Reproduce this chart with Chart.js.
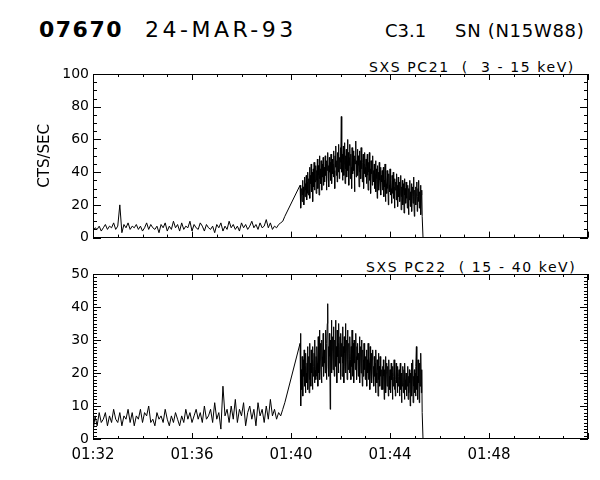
<!DOCTYPE html>
<html>
<head>
<meta charset="utf-8">
<script src="https://cdn.jsdelivr.net/npm/chart.js@4/dist/chart.umd.min.js"></script>
<style>
    body { margin: 0; background: #fff; }
    #page { position: relative; width: 600px; height: 480px; overflow: hidden; font-family: 'DejaVu Sans', sans-serif; color: #000; }
    .txt { position: absolute; white-space: pre; line-height: 1; }
    canvas { position: absolute; left: 0; }
</style>
</head>
<body>
<div id="page">
    <div class="txt" style="left:39px; top:19px; font-size:22px; font-weight:bold; letter-spacing:1.5px;">07670</div>
    <div class="txt" style="left:145px; top:19px; font-size:22px; letter-spacing:3.5px;">24-MAR-93</div>
    <div class="txt" style="left:385px; top:22px; font-size:18px;">C3.1</div>
    <div class="txt" style="left:455px; top:22px; font-size:18px; letter-spacing:0.7px;">SN (N15W88)</div>
    <div class="txt" style="left:369px; top:60px; font-size:14px; letter-spacing:1.6px;">SXS PC21  (  3 - 15 keV)</div>
    <div class="txt" style="left:366px; top:260px; font-size:14px; letter-spacing:1.6px;">SXS PC22  ( 15 - 40 keV)</div>
    <canvas id="pc21Chart" width="600" height="250" style="top:0;"></canvas>
    <canvas id="pc22Chart" width="600" height="230" style="top:250px;"></canvas>
</div>
<script>
// time is seconds after 01:32:00 UT
const quietStart = 0;
const quietStep = 5;
const flareStart = 502;
const flareStep = 1;
const endTime = 800;
const axisMin = 0;
const axisMax = 1200;

// SXS PC21 (3 - 15 keV)
const pc21Quiet = [
    4, 6, 5, 7, 4, 6, 8, 5, 7, 6,
    9, 5, 7, 20, 3, 8, 6, 9, 5, 7,
    6, 8, 5, 7, 4, 6, 9, 5, 8, 6,
    5, 7, 3, 8, 6, 9, 4, 7, 5, 10,
    6, 8, 4, 9, 5, 7, 6, 10, 4, 8,
    6, 5, 9, 7, 4, 8, 6, 5, 7, 3,
    8, 6, 9, 4, 7, 5, 10, 6, 8, 5,
    7, 4, 9, 6, 8, 5, 7, 10, 6, 8,
    5, 9, 6, 7, 11, 6, 9, 5, 7, 6,
    8, 9, 10, 13
];
const pc21Flare = [
    32, 24, 18, 27, 30, 22, 35, 26, 31, 20, 28, 37, 25, 33, 29, 38, 23, 34, 27, 40,
    26, 36, 30, 43, 24, 38, 33, 45, 28, 40, 35, 22, 42, 31, 46, 29, 39, 34, 44, 27,
    41, 35, 48, 30, 44, 38, 26, 50, 36, 42, 33, 47, 39, 29, 45, 37, 49, 32, 43, 40,
    34, 50, 38, 45, 29, 47, 41, 52, 36, 44, 31, 49, 40, 46, 35, 51, 42, 33, 48, 39,
    45, 37, 53, 41, 30, 50, 43, 56, 38, 47, 34, 52, 44, 40, 57, 36, 49, 42, 55, 46,
    74, 40, 51, 35, 48, 56, 38, 45, 58, 33, 50, 42, 54, 37, 47, 60, 41, 52, 32, 49,
    44, 57, 36, 51, 43, 30, 55, 46, 39, 53, 41, 48, 28, 50, 45, 59, 37, 47, 42, 54,
    38, 50, 44, 31, 53, 40, 47, 36, 55, 42, 49, 34, 46, 51, 30, 45, 39, 52, 43, 37,
    48, 33, 44, 51, 38, 29, 46, 40, 52, 35, 42, 27, 47, 39, 44, 32, 50, 36, 41, 34,
    45, 30, 39, 47, 28, 42, 36, 24, 44, 33, 40, 29, 46, 35, 31, 43, 26, 38, 34, 41,
    29, 37, 43, 25, 35, 31, 45, 22, 38, 33, 27, 41, 30, 36, 20, 39, 32, 28, 42, 26,
    35, 30, 21, 38, 27, 33, 40, 24, 31, 18, 36, 29, 34, 23, 39, 28, 32, 19, 37, 25,
    30, 34, 22, 27, 38, 17, 31, 25, 35, 20, 29, 33, 15, 36, 26, 30, 21, 34, 24, 28,
    18, 32, 26, 14, 30, 23, 35, 19, 28, 24, 33, 16, 27, 31, 21, 37, 25, 13, 29, 22,
    31, 20, 27, 34, 16, 25, 30, 22, 35, 18, 28, 24, 32, 14, 26, 29, 13
];

// SXS PC22 (15 - 40 keV)
const pc22Quiet = [
    2, 7, 4, 8, 5, 6, 8, 4, 7, 5,
    9, 6, 5, 8, 4, 7, 6, 9, 5, 8,
    4, 7, 6, 9, 5, 8, 7, 10, 5, 6,
    4, 8, 6, 7, 5, 9, 6, 4, 7, 5,
    8, 6, 4, 7, 5, 9, 6, 8, 5, 7,
    9, 6, 8, 5, 10, 6, 7, 9, 5, 11,
    6, 8, 3, 16, 7, 9, 5, 10, 6, 12,
    5, 9, 7, 11, 4, 8, 10, 6, 9, 4,
    11, 7, 9, 5, 10, 6, 12, 7, 9, 6,
    8, 7, 9, 11
];
const pc22Flare = [
    29, 32, 10, 21, 15, 25, 18, 13, 24, 19, 27, 16, 22, 14, 26, 20, 17, 23, 28, 15,
    21, 25, 14, 29, 18, 23, 16, 27, 20, 24, 15, 28, 19, 22, 26, 17, 30, 21, 18, 25,
    19, 28, 23, 16, 31, 20, 26, 33, 18, 24, 29, 21, 17, 30, 25, 22, 32, 19, 27, 23,
    26, 20, 33, 24, 18, 29, 35, 41, 22, 28, 19, 32, 25, 9, 30, 23, 36, 20, 27, 31,
    21, 34, 26, 19, 30, 24, 36, 22, 28, 17, 33, 25, 29, 20, 35, 23, 27, 31, 18, 32,
    25, 29, 19, 34, 23, 28, 17, 31, 26, 22, 35, 20, 27, 30, 18, 33, 24, 21, 29, 26,
    20, 31, 24, 18, 28, 22, 33, 19, 26, 29, 17, 30, 23, 27, 21, 32, 25, 18, 28, 24,
    29, 19, 26, 22, 31, 17, 25, 28, 20, 30, 23, 16, 27, 24, 19, 29, 21, 26, 18, 25,
    22, 27, 16, 24, 20, 29, 18, 25, 23, 15, 28, 21, 19, 26, 17, 24, 27, 20, 22, 16,
    25, 19, 23, 14, 27, 20, 17, 24, 21, 13, 26, 18, 22, 16, 25, 19, 23, 15, 21, 18,
    22, 15, 24, 19, 12, 21, 17, 25, 14, 20, 23, 16, 18, 22, 13, 24, 19, 15, 21, 17,
    14, 23, 18, 20, 12, 22, 16, 19, 24, 15, 21, 13, 18, 23, 17, 20, 14, 22, 16, 19,
    21, 13, 18, 23, 15, 20, 11, 19, 16, 22, 14, 17, 21, 12, 23, 18, 15, 20, 13, 19,
    16, 22, 12, 19, 14, 21, 17, 10, 20, 15, 23, 13, 18, 24, 11, 19, 16, 21, 14, 20,
    13, 22, 28, 15, 19, 12, 24, 17, 20, 11, 23, 16, 18, 26, 14, 21, 8
];

const pc21Ticks = { max: 100, major: 20, minor: 5 };
const pc22Ticks = { max: 50, major: 10, minor: 1 };
const timeTicks = { major: 240, minor: 60 };

const toPoints = (quiet, flare) => {
    const pts = quiet.map((v, i) => ({ x: quietStart + i * quietStep, y: v }));
    flare.forEach((v, i) => pts.push({ x: flareStart + i * flareStep, y: v }));
    pts.push({ x: endTime, y: 0 });
    return pts;
};

const timeLabel = (sec) => {
    const m = 32 + Math.round(sec / 60);
    return '01:' + String(m).padStart(2, '0');
};

// IDL style box with inward ticks on all four sides
const idlFrame = {
    id: 'idlFrame',
    afterDraw(chart, args, opts) {
        const { ctx, chartArea: a } = chart;
        const xs = chart.scales.x;
        const ys = chart.scales.y;
        ctx.save();
        ctx.strokeStyle = '#000';
        ctx.lineWidth = 1;
        ctx.beginPath();
        for (let v = 0; v <= opts.yMax + 1e-6; v += opts.yMinor) {
            const y = Math.round(ys.getPixelForValue(v)) + 0.5;
            const len = Math.abs(v % opts.yMajor) < 1e-6 ? 8 : 4;
            ctx.moveTo(a.left, y); ctx.lineTo(a.left + len, y);
            ctx.moveTo(a.right, y); ctx.lineTo(a.right - len, y);
        }
        for (let v = axisMin; v <= axisMax; v += timeTicks.minor) {
            const x = Math.round(xs.getPixelForValue(v)) + 0.5;
            const len = v % timeTicks.major === 0 ? 6 : 3;
            ctx.moveTo(x, a.top); ctx.lineTo(x, a.top + len);
            ctx.moveTo(x, a.bottom); ctx.lineTo(x, a.bottom - len);
        }
        ctx.stroke();
        ctx.strokeRect(Math.round(a.left) + 0.5, Math.round(a.top) + 0.5,
            Math.round(a.right - a.left) - 1, Math.round(a.bottom - a.top) - 1);
        ctx.restore();
    },
};

const font = { family: "'DejaVu Sans', sans-serif", size: 14 };

const makePanel = (canvasId, points, tickSet, padding, showTime, yTitle) => {
    const el = document.getElementById(canvasId);
    return new Chart(el.getContext('2d'), {
        type: 'line',
        data: {
            datasets: [
                {
                    data: points,
                    borderColor: '#000',
                    borderWidth: 1,
                    pointRadius: 0,
                    tension: 0,
                    fill: false,
                },
            ],
        },
        options: {
            responsive: false,
            animation: false,
            events: [],
            layout: { padding },
            plugins: {
                legend: { display: false },
                tooltip: { enabled: false },
                idlFrame: { yMax: tickSet.max, yMajor: tickSet.major, yMinor: tickSet.minor },
            },
            scales: {
                x: {
                    type: 'linear',
                    min: axisMin,
                    max: axisMax,
                    display: showTime,
                    grid: { display: false, drawTicks: false },
                    border: { display: false },
                    afterFit: (scale) => { if (showTime) scale.height = 41; },
                    ticks: {
                        stepSize: timeTicks.major,
                        autoSkip: false,
                        maxRotation: 0,
                        padding: 7,
                        color: '#000',
                        font: { family: font.family, size: 15 },
                        callback: (v) => (v >= axisMax ? '' : timeLabel(v)),
                    },
                },
                y: {
                    min: 0,
                    max: tickSet.max,
                    grid: { display: false, drawTicks: false },
                    border: { display: false },
                    afterFit: (scale) => { scale.width = 93; },
                    title: {
                        display: !!yTitle,
                        text: yTitle || '',
                        color: '#000',
                        font: { family: font.family, size: 15 },
                        padding: { top: 36, bottom: 0 },
                    },
                    ticks: {
                        stepSize: tickSet.major,
                        padding: 4,
                        color: '#000',
                        font,
                    },
                },
            },
        },
        plugins: [idlFrame],
    });
};

makePanel('pc21Chart', toPoints(pc21Quiet, pc21Flare), pc21Ticks,
    { top: 74, right: 12, bottom: 11, left: 0 }, false, 'CTS/SEC');
makePanel('pc22Chart', toPoints(pc22Quiet, pc22Flare), pc22Ticks,
    { top: 24, right: 12, bottom: 0, left: 0 }, true, '');
</script>
</body>
</html>
